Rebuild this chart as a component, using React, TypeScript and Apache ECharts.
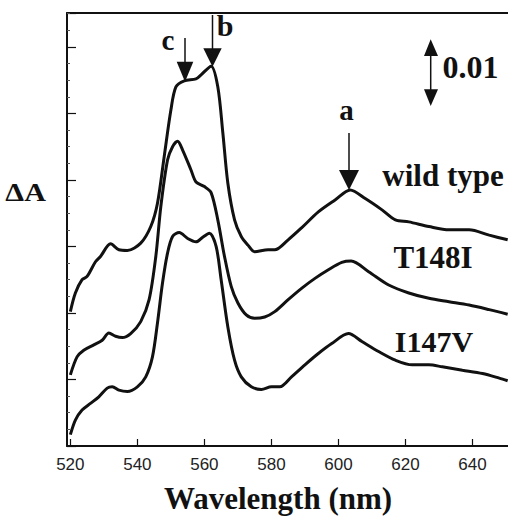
import React, { useEffect, useRef } from "react";
import * as echarts from "echarts";

// Wavelength (nm) and ΔA (units of 0.001)
const wildTypeX = [520, 521.5, 523.5, 525, 527.5, 529, 532, 534.5, 537, 541, 544, 546, 548, 550, 551.5, 554, 557.5, 559, 562, 564, 565.5, 567, 569, 571, 573, 575, 579, 581, 585, 589, 594, 599, 603.5, 608, 613, 617, 621, 627, 633, 639, 645, 650.5];
const wildTypeY = [20.2, 23.0, 25.0, 25.5, 27.7, 28.5, 30.4, 29.5, 29.4, 30.5, 33.0, 36.5, 43.5, 50.5, 54.0, 54.9, 55.2, 55.8, 57.1, 54.0, 47.1, 39.5, 34.0, 31.5, 30.2, 29.2, 29.5, 29.5, 31.0, 32.8, 35.2, 37.0, 38.5, 37.2, 35.5, 34.0, 33.7, 33.0, 32.5, 32.5, 31.7, 31.0];

const t148iX = [520, 522, 524, 527, 529.5, 531.5, 533.5, 535.5, 538, 541, 543.5, 545.5, 547, 549, 550.5, 552, 553.5, 556, 557.5, 560, 562, 564, 566, 568, 570, 572.5, 575, 578, 581, 585, 589, 593, 597, 601, 603.8, 609, 615, 621, 627, 633, 639, 645, 650.5];
const t148iY = [10.7, 13.4, 14.4, 15.2, 15.9, 17.0, 16.5, 16.3, 16.9, 18.7, 22.0, 28.5, 36.0, 43.0, 45.0, 45.8, 44.5, 41.5, 39.7, 39.0, 38.1, 34.0, 28.5, 24.0, 21.5, 19.7, 19.2, 19.4, 20.2, 22.0, 23.7, 25.2, 26.5, 27.6, 27.8, 26.2, 24.2, 23.0, 22.2, 21.7, 21.2, 20.5, 19.8];

const i147vX = [520, 521.5, 523.5, 526, 528.5, 531, 532.5, 534.5, 537, 540, 542.5, 544.5, 546, 547.5, 549, 550.5, 552.5, 555, 557.5, 559.5, 561.5, 563.5, 565, 567, 569, 571, 574, 577, 580, 582.5, 586, 590, 594, 598, 603, 607, 612, 617, 622, 627, 631, 637, 643, 648, 650.5];
const i147vY = [1.7, 3.9, 5.4, 6.4, 7.4, 8.7, 8.9, 8.4, 8.2, 8.9, 10.4, 13.4, 18.5, 24.5, 29.0, 31.5, 32.1, 31.2, 30.7, 31.4, 32.0, 30.0, 25.0, 17.9, 12.9, 10.4, 8.9, 8.5, 8.9, 8.9, 10.4, 12.2, 13.9, 15.4, 16.9, 15.7, 14.2, 12.9, 12.2, 12.2, 11.9, 11.4, 10.9, 10.2, 9.8];

const xTickValues = [520, 540, 560, 580, 600, 620, 640];
const seriesNames = ["wild type", "T148I", "I147V"];

const SERIF = "'Liberation Serif', 'Times New Roman', serif";
const SANS = "'Liberation Sans', Arial, sans-serif";

function pairs(xs: number[], ys: number[]) {
  return xs.map((x, i) => [x, ys[i]]);
}

export default function App() {
  const ref = useRef<HTMLDivElement>(null);
  useEffect(() => {
    if (!ref.current) return;
    const chart = echarts.init(ref.current, null, { renderer: "svg" });
    const black = "#111";
    const lineStyle = { color: black, width: 3 };
    const txt = (text: string, x: number, y: number, size: number, extra: any = {}) => ({
      type: "text",
      x,
      y,
      style: {
        text,
        fill: black,
        font: `bold ${size}px ${SERIF}`,
        textAlign: "center",
        textVerticalAlign: "middle",
      },
      ...extra,
    });
    const shaft = (x: number, y1: number, y2: number) => ({
      type: "line",
      shape: { x1: x, y1, x2: x, y2 },
      style: { stroke: black, lineWidth: 1.5 },
    });
    const tri = (pts: number[][]) => ({
      type: "polygon",
      shape: { points: pts },
      style: { fill: black },
    });
    chart.setOption({
      animation: false,
      backgroundColor: "#fff",
      grid: { left: 67, top: 13, width: 441, height: 433 },
      xAxis: [
        {
          type: "value",
          min: 519,
          max: 650.6,
          axisLine: { show: true, lineStyle: { color: black, width: 2 } },
          axisTick: {
            show: true,
            inside: true,
            length: 7,
            customValues: xTickValues,
            lineStyle: { color: black, width: 1.2 },
          },
          axisLabel: {
            show: true,
            customValues: xTickValues,
            margin: 10,
            color: "#222",
            fontSize: 17,
            fontFamily: SANS,
          },
          splitLine: { show: false },
        },
        {
          type: "value",
          position: "top",
          min: 519,
          max: 650.6,
          axisLine: { show: true, lineStyle: { color: black, width: 2 } },
          axisTick: { show: false },
          axisLabel: { show: false },
          splitLine: { show: false },
        },
      ],
      yAxis: {
        type: "value",
        min: 0,
        max: 65.1,
        interval: 10,
        axisLine: { show: true, lineStyle: { color: black, width: 2 } },
        axisTick: { show: true, inside: true, length: 9, lineStyle: { color: black, width: 1.2 } },
        minorTick: { show: true, splitNumber: 4, length: 3, lineStyle: { color: "#555", width: 1 } },
        axisLabel: { show: false },
        splitLine: { show: false },
      },
      series: [
        { name: seriesNames[0], type: "line", data: pairs(wildTypeX, wildTypeY) },
        { name: seriesNames[1], type: "line", data: pairs(t148iX, t148iY) },
        { name: seriesNames[2], type: "line", data: pairs(i147vX, i147vY) },
      ].map((s) => ({ ...s, showSymbol: false, smooth: 0.3, lineStyle, xAxisIndex: 0 })),
      graphic: [
        txt("ΔA", 32, 192, 25, { scaleX: 1.2, originX: 32, originY: 192 }),
        txt("Wavelength (nm)", 278, 498, 31),
        txt(seriesNames[0], 443, 175, 31),
        txt(seriesNames[1], 433, 257, 31),
        txt(seriesNames[2], 434, 341, 30),
        txt("0.01", 470.5, 67, 32),
        txt("a", 346.5, 110, 29),
        txt("b", 225, 25, 30),
        txt("c", 168, 40, 29),
        shaft(185, 38, 64),
        tri([[176.7, 61.7], [193.3, 61.7], [185, 81.7]]),
        shaft(212.5, 15, 50),
        tri([[203.3, 48.3], [221.7, 48.3], [212.5, 66.7]]),
        shaft(349, 133, 172),
        tri([[339, 170], [359, 170], [349, 190]]),
        shaft(430.7, 52, 94),
        tri([[424, 56], [438, 56], [430.7, 39.3]]),
        tri([[424, 89.3], [438, 89.3], [430.7, 106]]),
      ],
    });
    return () => chart.dispose();
  }, []);
  return (
    <div
      ref={ref}
      style={{ position: "fixed", left: 0, top: 0, width: 508, height: 518, background: "#fff" }}
    />
  );
}
